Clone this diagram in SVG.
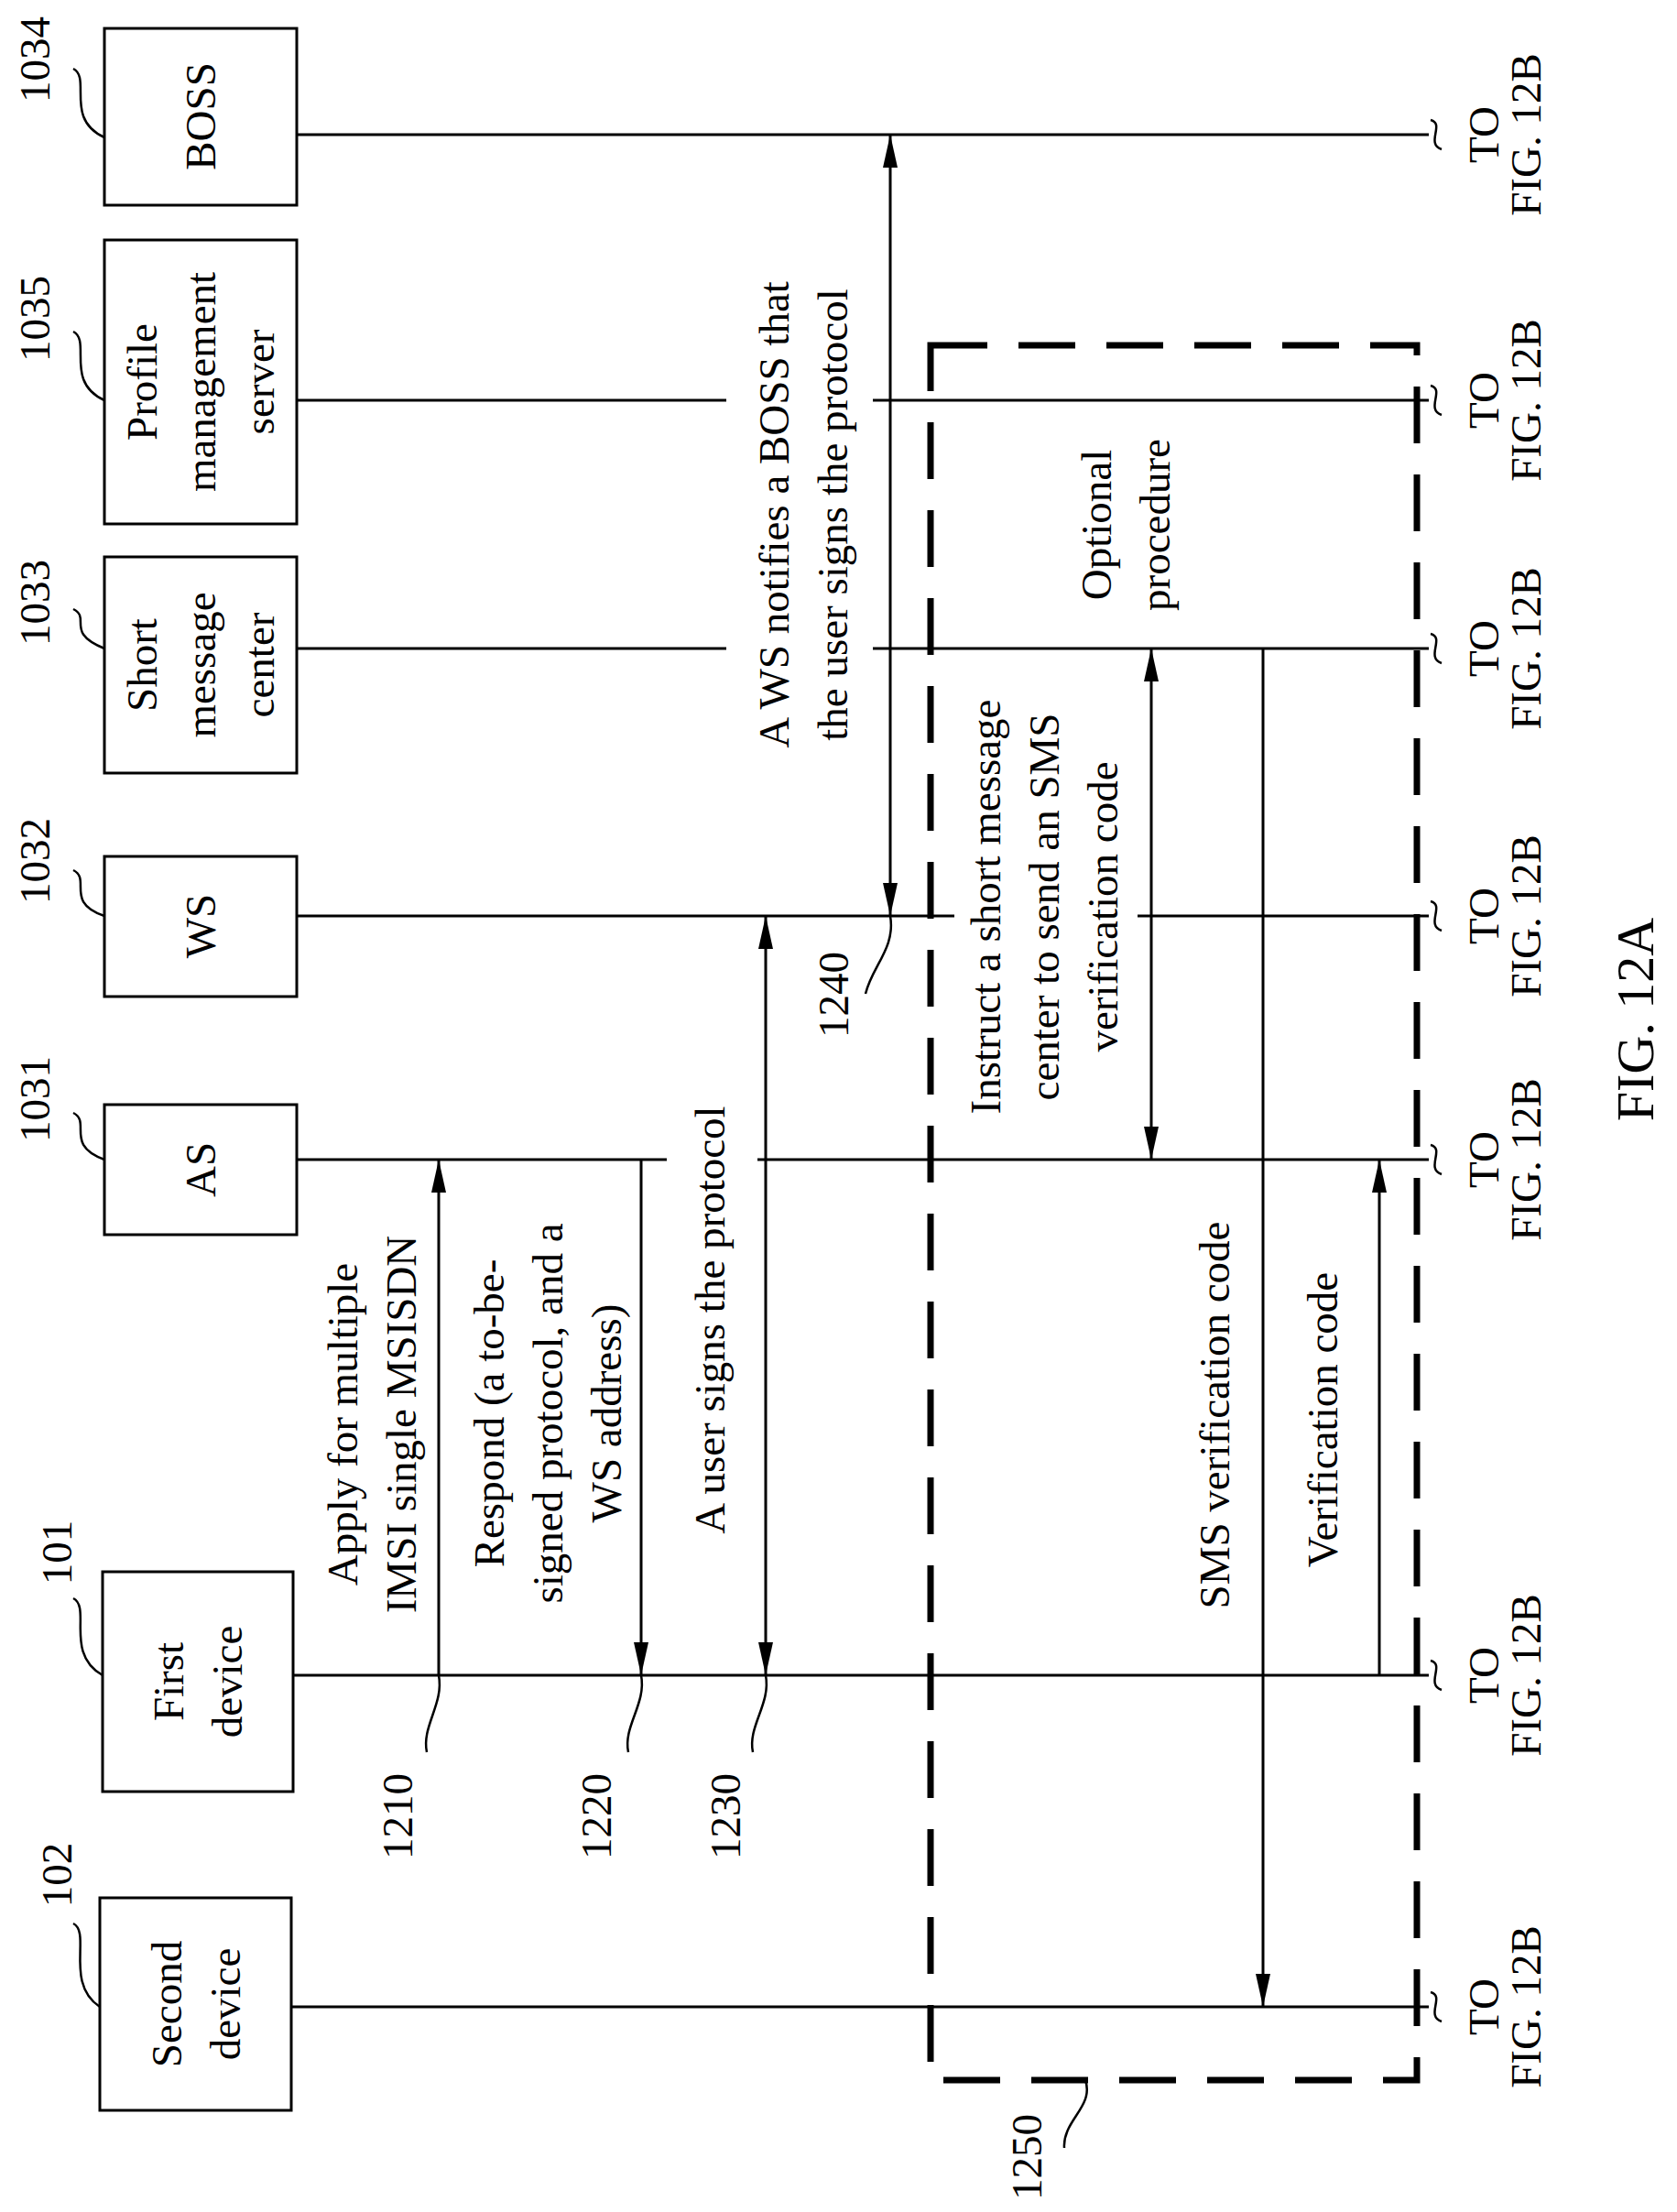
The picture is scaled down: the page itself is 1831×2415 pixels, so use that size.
<svg xmlns="http://www.w3.org/2000/svg" width="1831" height="2415" viewBox="0 0 1831 2415">
<style>
text{font-family:"Liberation Serif","DejaVu Serif",serif;font-size:47px;fill:#000;text-anchor:middle}
.box{fill:#fff;stroke:#000;stroke-width:3}
.ll{stroke:#000;stroke-width:3;fill:none}
.lead{stroke:#000;stroke-width:2.5;fill:none}
.ar{stroke:#000;stroke-width:3;fill:none}
.dash{stroke:#000;stroke-width:7;fill:none;stroke-dasharray:62 34}
</style>
<defs>
<marker id="ah" viewBox="0 0 36 16" refX="36" refY="8" markerWidth="36" markerHeight="16" markerUnits="userSpaceOnUse" orient="auto-start-reverse"><path d="M0,0 L36,8 L0,16 z" fill="#000"/></marker>
<path id="tl" d="M-6,-16 C10,-12 -12,10 6,16" stroke="#000" stroke-width="2.5" fill="none"/>
</defs>

<g id="n1034"><rect class="box" x="114" y="31" width="210" height="193"/><text transform="translate(219,127) rotate(-90)" y="16">BOSS</text><text transform="translate(38,65) rotate(-90)" y="16">1034</text><path class="lead" d="M80,75 C100,85 70,130 114,150"/></g>
<g id="n1035"><rect class="box" x="114" y="262" width="210" height="310"/><text transform="translate(219,417) rotate(-90)"><tspan x="0" y="-48">Profile</tspan><tspan x="0" y="16">management</tspan><tspan x="0" y="80">server</tspan></text><text transform="translate(38,348) rotate(-90)" y="16">1035</text><path class="lead" d="M80,362 C100,372 70,417 114,437"/></g>
<g id="n1033"><rect class="box" x="114" y="608" width="210" height="236"/><text transform="translate(219,726) rotate(-90)"><tspan x="0" y="-48">Short</tspan><tspan x="0" y="16">message</tspan><tspan x="0" y="80">center</tspan></text><text transform="translate(38,658) rotate(-90)" y="16">1033</text><path class="lead" d="M80,665 C100,675 70,690 114,708"/></g>
<g id="n1032"><rect class="box" x="114" y="935" width="210" height="153"/><text transform="translate(219,1011) rotate(-90)" y="16">WS</text><text transform="translate(38,940) rotate(-90)" y="16">1032</text><path class="lead" d="M80,950 C100,960 70,985 114,1000"/></g>
<g id="n1031"><rect class="box" x="114" y="1206" width="210" height="142"/><text transform="translate(219,1277) rotate(-90)" y="16">AS</text><text transform="translate(38,1200) rotate(-90)" y="16">1031</text><path class="lead" d="M80,1215 C100,1225 70,1250 114,1266"/></g>
<g id="n101"><rect class="box" x="112" y="1716" width="208" height="240"/><text transform="translate(216,1836) rotate(-90)"><tspan x="0" y="-16">First</tspan><tspan x="0" y="48">device</tspan></text><text transform="translate(62,1695) rotate(-90)" y="16">101</text><path class="lead" d="M80,1745 C100,1755 70,1805 112,1829"/></g>
<g id="n102"><rect class="box" x="109" y="2072" width="209" height="232"/><text transform="translate(214,2188) rotate(-90)"><tspan x="0" y="-16">Second</tspan><tspan x="0" y="48">device</tspan></text><text transform="translate(62,2047) rotate(-90)" y="16">102</text><path class="lead" d="M80,2100 C100,2110 70,2165 109,2191"/></g>

<g id="lifelines">
<path class="ll" d="M324,147 H1560 M324,437 H793 M953,437 H1560 M324,708 H793 M953,708 H1560 M324,1000 H1042 M1242,1000 H1560 M324,1266 H728 M827,1266 H1560 M320,1829 H1560 M318,2191 H1560"/>
<use href="#tl" x="1568" y="147"/><use href="#tl" x="1568" y="437"/><use href="#tl" x="1568" y="708"/><use href="#tl" x="1568" y="1000"/><use href="#tl" x="1568" y="1266"/><use href="#tl" x="1568" y="1829"/><use href="#tl" x="1568" y="2191"/>
</g>
<g id="tofig">
<text transform="translate(1642,147) rotate(-90)"><tspan x="0" y="-6">TO</tspan><tspan x="0" y="40">FIG. 12B</tspan></text>
<text transform="translate(1642,437) rotate(-90)"><tspan x="0" y="-6">TO</tspan><tspan x="0" y="40">FIG. 12B</tspan></text>
<text transform="translate(1642,708) rotate(-90)"><tspan x="0" y="-6">TO</tspan><tspan x="0" y="40">FIG. 12B</tspan></text>
<text transform="translate(1642,1000) rotate(-90)"><tspan x="0" y="-6">TO</tspan><tspan x="0" y="40">FIG. 12B</tspan></text>
<text transform="translate(1642,1266) rotate(-90)"><tspan x="0" y="-6">TO</tspan><tspan x="0" y="40">FIG. 12B</tspan></text>
<text transform="translate(1642,1829) rotate(-90)"><tspan x="0" y="-6">TO</tspan><tspan x="0" y="40">FIG. 12B</tspan></text>
<text transform="translate(1642,2191) rotate(-90)"><tspan x="0" y="-6">TO</tspan><tspan x="0" y="40">FIG. 12B</tspan></text>
</g>

<g id="connectors">
<line class="ar" x1="479" y1="1829" x2="479" y2="1266" marker-end="url(#ah)"/>
<line class="ar" x1="700" y1="1266" x2="700" y2="1829" marker-end="url(#ah)"/>
<line class="ar" x1="836" y1="1000" x2="836" y2="1829" marker-start="url(#ah)" marker-end="url(#ah)"/>
<line class="ar" x1="972" y1="147" x2="972" y2="1000" marker-start="url(#ah)" marker-end="url(#ah)"/>
<line class="ar" x1="1257" y1="708" x2="1257" y2="1266" marker-start="url(#ah)" marker-end="url(#ah)"/>
<line class="ar" x1="1379" y1="708" x2="1379" y2="2191" marker-end="url(#ah)"/>
<line class="ar" x1="1506" y1="1829" x2="1506" y2="1266" marker-end="url(#ah)"/>
<path class="lead" d="M479,1829 C485,1860 460,1885 466,1913"/>
<path class="lead" d="M700,1829 C706,1860 680,1885 686,1913"/>
<path class="lead" d="M836,1829 C842,1860 816,1885 822,1913"/>
<path class="lead" d="M972,1000 C978,1035 952,1055 945,1085"/>
</g>

<g id="box1250">
<rect class="dash" x="1016" y="377" width="531" height="1894"/>
<path class="lead" d="M1185,2271 C1195,2300 1160,2315 1162,2345"/>
<text transform="translate(1121,2355) rotate(-90)" y="16">1250</text>
</g>

<g id="labels">
<text transform="translate(877,562) rotate(-90)"><tspan x="0" y="-16">A WS notifies a BOSS that</tspan><tspan x="0" y="48">the user signs the protocol</tspan></text>
<text transform="translate(1229,573) rotate(-90)"><tspan x="0" y="-16">Optional</tspan><tspan x="0" y="48">procedure</tspan></text>
<text transform="translate(1140,990) rotate(-90)"><tspan x="0" y="-48">Instruct a short message</tspan><tspan x="0" y="16">center to send an SMS</tspan><tspan x="0" y="80">verification code</tspan></text>
<text transform="translate(406,1555) rotate(-90)"><tspan x="0" y="-16">Apply for multiple</tspan><tspan x="0" y="48">IMSI single MSISDN</tspan></text>
<text transform="translate(598,1543) rotate(-90)"><tspan x="0" y="-48">Respond (a to-be-</tspan><tspan x="0" y="16">signed protocol, and a</tspan><tspan x="0" y="80">WS address)</tspan></text>
<text transform="translate(775,1441) rotate(-90)" y="16">A user signs the protocol</text>
<text transform="translate(1326,1545) rotate(-90)" y="16">SMS verification code</text>
<text transform="translate(1444,1550) rotate(-90)" y="16">Verification code</text>
<text transform="translate(434,1983) rotate(-90)" y="16">1210</text>
<text transform="translate(651,1983) rotate(-90)" y="16">1220</text>
<text transform="translate(792,1983) rotate(-90)" y="16">1230</text>
<text transform="translate(910,1086) rotate(-90)" y="16">1240</text>
<text transform="translate(1785,1113) rotate(-90)" y="20" style="font-size:58px">FIG. 12A</text>
</g>
</svg>
